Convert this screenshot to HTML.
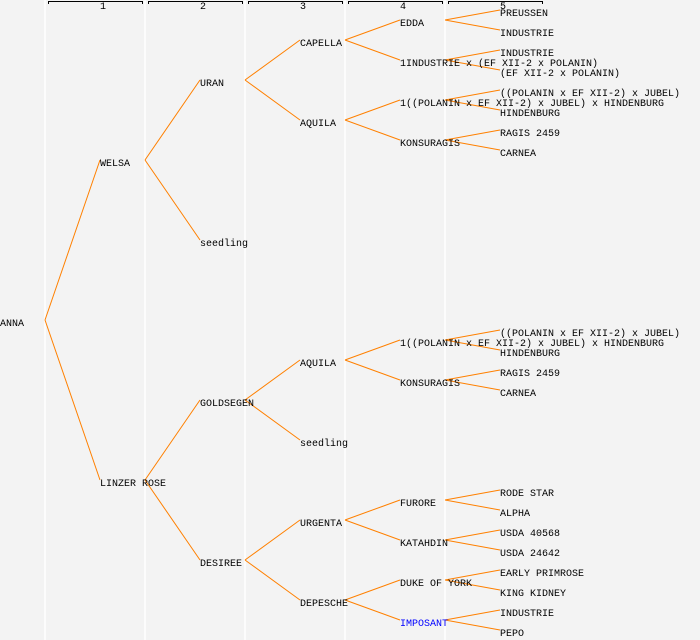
<!DOCTYPE html>
<html><head><style>
html,body{margin:0;padding:0;background:#f3f3f3;}
svg{display:block;}
text{font-family:"Liberation Mono","DejaVu Sans Mono",monospace;font-size:10px;fill:#000;}
</style></head><body>
<svg width="700" height="640" viewBox="0 0 700 640" xmlns="http://www.w3.org/2000/svg">
<rect width="700" height="640" fill="#f3f3f3"/>
<g stroke="#ffffff" stroke-width="1.5">
<line x1="45" y1="0" x2="45" y2="640"/><line x1="145" y1="0" x2="145" y2="640"/><line x1="245" y1="0" x2="245" y2="640"/><line x1="345" y1="0" x2="345" y2="640"/><line x1="445" y1="0" x2="445" y2="640"/>
</g>
<g stroke="#000" fill="none" stroke-width="1">
<path d="M48.5 4V1.5H142.5V4"/><path d="M148.5 4V1.5H242.5V4"/><path d="M248.5 4V1.5H342.5V4"/><path d="M348.5 4V1.5H442.5V4"/><path d="M448.5 4V1.5H542.5V4"/>
</g>
<g style="font-size:8px"><text x="100" y="9">1</text><text x="200" y="9">2</text><text x="300" y="9">3</text><text x="400" y="9">4</text><text x="500" y="9">5</text></g>
<g stroke="#ff8000" stroke-width="1" fill="none">
<path d="M45 320L100 160M45 320L100 480"/>
<path d="M145 160L200 80M145 160L200 240M145 480L200 400M145 480L200 560"/>
<path d="M245 80L300 40M245 80L300 120M245 400L300 360M245 400L300 440M245 560L300 520M245 560L300 600"/>
<path d="M345 40L400 20M345 40L400 60M345 120L400 100M345 120L400 140M345 360L400 340M345 360L400 380M345 520L400 500M345 520L400 540M345 600L400 580M345 600L400 620"/>
<path d="M445 20L500 10M445 20L500 30M445 60L500 50M445 60L500 70M445 100L500 90M445 100L500 110M445 140L500 130M445 140L500 150"/>
<path d="M445 340L500 330M445 340L500 350M445 380L500 370M445 380L500 390M445 500L500 490M445 500L500 510M445 540L500 530M445 540L500 550M445 580L500 570M445 580L500 590M445 620L500 610M445 620L500 630"/>
</g>
<g>
<text x="0" y="326">ANNA</text>
<text x="100" y="166">WELSA</text><text x="100" y="486">LINZER ROSE</text>
<text x="200" y="86">URAN</text><text x="200" y="246">seedling</text><text x="200" y="406">GOLDSEGEN</text><text x="200" y="566">DESIREE</text>
<text x="300" y="46">CAPELLA</text><text x="300" y="126">AQUILA</text><text x="300" y="366">AQUILA</text><text x="300" y="446">seedling</text><text x="300" y="526">URGENTA</text><text x="300" y="606">DEPESCHE</text>
<text x="400" y="26">EDDA</text><text x="400" y="66">1INDUSTRIE x (EF XII-2 x POLANIN)</text><text x="400" y="106">1((POLANIN x EF XII-2) x JUBEL) x HINDENBURG</text><text x="400" y="146">KONSURAGIS</text>
<text x="400" y="346">1((POLANIN x EF XII-2) x JUBEL) x HINDENBURG</text><text x="400" y="386">KONSURAGIS</text>
<text x="400" y="506">FURORE</text><text x="400" y="546">KATAHDIN</text><text x="400" y="586">DUKE OF YORK</text><text x="400" y="626" style="fill:#0000ff">IMPOSANT</text>
<text x="500" y="16">PREUSSEN</text><text x="500" y="36">INDUSTRIE</text><text x="500" y="56">INDUSTRIE</text><text x="500" y="76">(EF XII-2 x POLANIN)</text>
<text x="500" y="96">((POLANIN x EF XII-2) x JUBEL)</text><text x="500" y="116">HINDENBURG</text><text x="500" y="136">RAGIS 2459</text><text x="500" y="156">CARNEA</text>
<text x="500" y="336">((POLANIN x EF XII-2) x JUBEL)</text><text x="500" y="356">HINDENBURG</text><text x="500" y="376">RAGIS 2459</text><text x="500" y="396">CARNEA</text>
<text x="500" y="496">RODE STAR</text><text x="500" y="516">ALPHA</text><text x="500" y="536">USDA 40568</text><text x="500" y="556">USDA 24642</text>
<text x="500" y="576">EARLY PRIMROSE</text><text x="500" y="596">KING KIDNEY</text><text x="500" y="616">INDUSTRIE</text><text x="500" y="636">PEPO</text>
</g>
</svg>
</body></html>
